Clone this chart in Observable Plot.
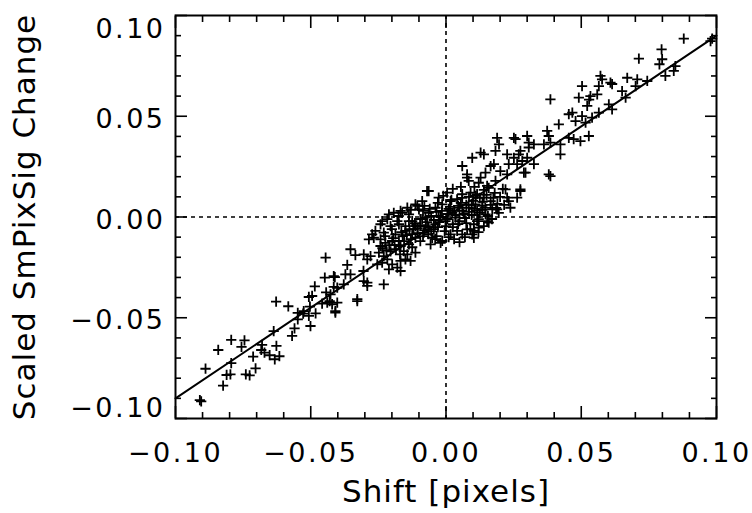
<!DOCTYPE html>
<html><head><meta charset="utf-8">
<script src="https://cdn.jsdelivr.net/npm/d3@7"></script>
<script src="https://cdn.jsdelivr.net/npm/@observablehq/plot@0.6"></script>
<style>
body{margin:0;background:#fff}
#chart svg{font-family:"DejaVu Sans",sans-serif}
#chart svg g[aria-label="x-axis tick label"] text,
#chart svg g[aria-label="y-axis tick label"] text{letter-spacing:2.5px}
#chart svg g[aria-label="text"] text{letter-spacing:1px}
</style>
</head><body><div id="chart"></div>
<script>
// Shift [pixels]
const xValues = [
-0.0910,-0.0905,-0.0889,-0.0824,-0.0842,-0.0811,-0.0797,-0.0794,-0.0794,-0.0756,
-0.0745,-0.0740,-0.0726,-0.0713,-0.0704,-0.0680,-0.0683,-0.0671,-0.0652,-0.0627,
-0.0633,-0.0616,-0.0637,-0.0628,-0.0583,-0.0569,-0.0560,-0.0548,-0.0548,-0.0528,
-0.0507,-0.0503,-0.0501,-0.0507,-0.0485,-0.0482,-0.0458,-0.0448,-0.0443,-0.0430,
-0.0421,-0.0415,-0.0411,-0.0445,-0.0365,-0.0335,-0.0304,-0.0279,-0.0291,-0.0328,
-0.0415,-0.0402,-0.0427,-0.0402,-0.0409,-0.0378,-0.0439,-0.0353,-0.0305,-0.0254,
-0.0495,-0.0526,-0.0353,-0.0291,-0.0273,-0.0285,-0.0261,-0.0242,-0.0236,-0.0217,
-0.0211,-0.0193,-0.0168,-0.0143,-0.0180,-0.0205,-0.0230,-0.0242,-0.0248,-0.0230,
-0.0217,-0.0236,-0.0199,-0.0211,-0.0180,-0.0168,-0.0150,-0.0230,-0.0291,-0.0304,
-0.0328,-0.0242,-0.0224,-0.0199,-0.0168,-0.0156,-0.0143,-0.0372,-0.0409,-0.0267,
-0.0168,-0.0131,
0.0097,0.0140,0.0060,0.0165,0.0146,0.0078,-0.0064,0.0004,-0.0027,0.0121,
0.0158,-0.0162,-0.0137,-0.0113,-0.0088,-0.0100,-0.0137,-0.0174,-0.0150,-0.0113,
-0.0088,-0.0064,-0.0039,-0.0014,0.0017,0.0041,0.0060,0.0091,0.0115,0.0140,
0.0165,0.0171,0.0146,0.0121,0.0103,0.0078,0.0041,0.0017,-0.0014,-0.0051,
-0.0082,-0.0113,-0.0137,-0.0113,0.0060,0.0097,0.0121,0.0158,0.0035,-0.0002,
-0.0039,-0.0064,0.0060,0.0084,0.0109,0.0134,0.0023,-0.0027,-0.0076,-0.0187,
-0.0174,-0.0070,0.0189,0.0196,0.0251,0.0300,0.0325,0.0275,0.0226,0.0177,
0.0201,0.0226,0.0263,0.0300,0.0325,0.0288,0.0380,0.0275,0.0226,0.0238,
0.0189,0.0152,0.0103,0.0103,-0.0020,-0.0057,-0.0106,0.0084,0.0128,0.0152,
0.0078,
0.0503,0.0386,0.0491,0.0534,0.0522,0.0467,0.0454,0.0503,0.0479,0.0516,
0.0540,0.0417,0.0374,0.0380,0.0257,0.0183,0.0128,0.0306,0.0306,0.0362,
0.0386,0.0423,0.0423,0.0454,0.0472,0.0497,0.0528,0.0386,0.0269,0.0251,
0.0232,0.0282,0.0294,0.0275,0.0263,0.0232,0.0220,0.0183,0.0879,0.0984,
0.0978,0.0797,0.0799,0.0789,0.0713,0.0848,0.0842,0.0811,0.0744,0.0707,
0.0701,0.0670,0.0651,0.0664,0.0608,0.0614,0.0571,0.0577,0.0565,0.0559,
0.0529,0.0602,0.0614,0.0565,
-0.0120,-0.0095,-0.0070,-0.0045,-0.0020,0.0005,0.0030,0.0050,0.0075,0.0100,
0.0125,0.0150,-0.0105,-0.0080,-0.0055,-0.0030,0.0000,0.0025,0.0050,0.0070,
0.0095,0.0115,0.0135,0.0085,0.0045,0.0010,-0.0035,-0.0060,-0.0085,-0.0125,
-0.0150,-0.0160,-0.0130,-0.0095,-0.0190,-0.0205,-0.0170,-0.0125,0.0030,0.0070,
0.0120,0.0170,0.0195,0.0190,0.0055,0.0025,-0.0010,0.0105,0.0140,
-0.0235,-0.0220,-0.0210,-0.0195,-0.0185,-0.0175,-0.0165,-0.0155,-0.0145,-0.0135,
-0.0125,-0.0115,-0.0105,-0.0095,-0.0085,-0.0075,-0.0065,-0.0055,-0.0045,-0.0035,
-0.0025,-0.0015,-0.0005,0.0005,0.0015,0.0025,0.0035,0.0045,0.0055,0.0065,
0.0075,0.0085,0.0095,0.0105,0.0115,0.0125,0.0135,0.0145,0.0155,0.0165,
0.0175,0.0185,0.0200,0.0210,0.0215,0.0180,0.0110,0.0060,0.0020,-0.0030,
-0.0080,-0.0130,-0.0175,-0.0200,-0.0225,-0.0040,0.0010,0.0050,0.0090,0.0140
];
// Scaled SmPixSig Change
const yValues = [
-0.0909,-0.0915,-0.0753,-0.0837,-0.0660,-0.0784,-0.0781,-0.0725,-0.0610,-0.0645,
-0.0612,-0.0781,-0.0786,-0.0693,-0.0751,-0.0635,-0.0660,-0.0673,-0.0686,-0.0640,
-0.0706,-0.0691,-0.0566,-0.0420,-0.0443,-0.0590,-0.0553,-0.0476,-0.0508,-0.0480,
-0.0397,-0.0445,-0.0541,-0.0491,-0.0344,-0.0478,-0.0430,-0.0301,-0.0374,-0.0417,
-0.0433,-0.0347,-0.0298,-0.0202,-0.0238,-0.0189,-0.0185,-0.0194,-0.0326,-0.0417,
-0.0293,-0.0351,-0.0384,-0.0425,-0.0475,-0.0334,-0.0425,-0.0285,-0.0268,-0.0235,
-0.0392,-0.0467,-0.0160,-0.0210,-0.0086,-0.0111,-0.0069,-0.0036,-0.0020,-0.0011,
0.0013,0.0021,0.0030,0.0046,-0.0020,-0.0045,-0.0078,-0.0111,-0.0177,-0.0194,
-0.0210,-0.0227,-0.0235,-0.0260,-0.0251,-0.0218,-0.0210,-0.0334,-0.0342,-0.0318,
-0.0408,-0.0144,-0.0128,-0.0119,-0.0144,-0.0169,-0.0185,-0.0285,-0.0467,-0.0103,
-0.0268,-0.0218,
0.0294,0.0311,0.0253,0.0253,0.0220,0.0195,0.0129,0.0121,0.0096,0.0170,
0.0145,0.0021,0.0013,0.0063,0.0079,0.0038,-0.0020,-0.0036,-0.0069,-0.0045,
-0.0011,0.0021,0.0046,0.0063,0.0079,0.0088,0.0113,0.0121,0.0113,0.0096,
0.0079,0.0038,0.0013,-0.0011,-0.0036,-0.0061,-0.0069,-0.0086,-0.0119,-0.0103,
-0.0078,-0.0103,-0.0136,-0.0177,-0.0086,-0.0086,-0.0053,-0.0028,-0.0003,-0.0020,
-0.0036,-0.0053,0.0030,0.0046,0.0063,0.0055,0.0021,0.0005,-0.0003,-0.0086,
-0.0119,0.0129,0.0393,0.0360,0.0393,0.0402,0.0360,0.0328,0.0311,0.0262,
0.0228,0.0212,0.0262,0.0294,0.0262,0.0220,0.0212,0.0129,0.0096,0.0046,
0.0038,-0.0020,-0.0069,-0.0103,-0.0128,-0.0136,0.0055,0.0179,0.0195,0.0154,
0.0212,
0.0650,0.0584,0.0592,0.0600,0.0551,0.0518,0.0510,0.0501,0.0476,0.0468,
0.0493,0.0460,0.0427,0.0402,0.0386,0.0328,0.0319,0.0369,0.0345,0.0360,
0.0369,0.0360,0.0311,0.0393,0.0386,0.0377,0.0402,0.0203,0.0311,0.0294,
0.0262,0.0278,0.0220,0.0137,0.0096,0.0079,0.0137,0.0179,0.0885,0.0885,
0.0873,0.0832,0.0783,0.0758,0.0786,0.0749,0.0725,0.0700,0.0675,0.0683,
0.0650,0.0691,0.0625,0.0592,0.0667,0.0660,0.0700,0.0683,0.0650,0.0609,
0.0583,0.0559,0.0534,0.0518,
-0.0060,-0.0040,-0.0025,-0.0015,0.0000,0.0015,0.0030,0.0045,0.0060,0.0080,
0.0095,0.0110,-0.0080,-0.0065,-0.0070,-0.0050,-0.0045,-0.0035,-0.0020,-0.0005,
0.0010,0.0030,0.0035,0.0100,0.0055,0.0040,0.0025,0.0040,0.0030,-0.0020,
-0.0045,-0.0095,-0.0110,-0.0120,-0.0140,-0.0170,-0.0185,-0.0150,-0.0110,-0.0100,
-0.0075,-0.0010,0.0020,0.0065,0.0150,0.0140,0.0105,0.0150,0.0135,
-0.0155,-0.0165,-0.0140,-0.0105,-0.0160,-0.0140,-0.0075,-0.0120,-0.0090,-0.0060,
-0.0085,-0.0030,-0.0055,-0.0010,-0.0095,-0.0045,-0.0085,0.0005,-0.0060,-0.0095,
-0.0025,0.0030,-0.0070,-0.0010,0.0050,-0.0050,0.0010,-0.0035,0.0070,0.0015,
-0.0030,0.0025,0.0060,0.0040,-0.0020,0.0020,0.0075,0.0045,0.0005,0.0060,
0.0095,0.0045,0.0100,0.0140,0.0060,0.0120,0.0105,0.0095,0.0085,0.0070,
0.0055,0.0035,0.0005,-0.0060,-0.0095,-0.0110,-0.0100,-0.0125,-0.0060,-0.0045
];
// fitted straight line (end values)
const fitX = [-0.10, 0.10];
const fitY = [-0.0900, 0.0900];

const majorTicks = [-0.10, -0.05, 0.00, 0.05, 0.10];
const minorTicks = [-0.09,-0.08,-0.07,-0.06,-0.04,-0.03,-0.02,-0.01,
                     0.01, 0.02, 0.03, 0.04, 0.06, 0.07, 0.08, 0.09];
const tickLabels = ["−0.10", "−0.05", "0.00", "0.05", "0.10"];
const xTitle = "Shift [pixels]";
const yTitle = "Scaled SmPixSig Change";

const points = xValues.map((x, i) => ({x, y: yValues[i]}));
const fit = fitX.map((x, i) => ({x, y: fitY[i]}));
const fmt = d => tickLabels[majorTicks.findIndex(t => Math.abs(t - d) < 1e-9)];

const tickStyle = {stroke: "black", fill: "none", strokeWidth: 1.6, label: null};
const labStyle = {tickSize: 0, fontSize: 27, fill: "black", tickFormat: fmt, label: null};

const chart = Plot.plot({
  width: 752, height: 513,
  marginLeft: 175, marginRight: 36, marginTop: 15, marginBottom: 95,
  x: {domain: [-0.1, 0.1]},
  y: {domain: [-0.1, 0.1]},
  style: {background: "white", color: "black", fontFamily: "DejaVu Sans, sans-serif"},
  marks: [
    Plot.ruleX([0], {stroke: "black", strokeWidth: 1.6, strokeDasharray: "4,4"}),
    Plot.ruleY([0], {stroke: "black", strokeWidth: 1.6, strokeDasharray: "4,4"}),
    Plot.dot(points, {x: "x", y: "y", symbol: "plus", r: 3.4, stroke: "black", strokeWidth: 1.8}),
    Plot.line(fit, {x: "x", y: "y", stroke: "black", strokeWidth: 2}),
    Plot.frame({stroke: "black", strokeWidth: 2}),
    // inward ticks on all four sides
    Plot.axisX(majorTicks, {anchor: "bottom", tickSize: -12, ...tickStyle}),
    Plot.axisX(minorTicks, {anchor: "bottom", tickSize: -6, ...tickStyle}),
    Plot.axisX(majorTicks, {anchor: "top", tickSize: -12, ...tickStyle}),
    Plot.axisX(minorTicks, {anchor: "top", tickSize: -6, ...tickStyle}),
    Plot.axisY(majorTicks, {anchor: "left", tickSize: -12, ...tickStyle}),
    Plot.axisY(minorTicks, {anchor: "left", tickSize: -6, ...tickStyle}),
    Plot.axisY(majorTicks, {anchor: "right", tickSize: -12, ...tickStyle}),
    Plot.axisY(minorTicks, {anchor: "right", tickSize: -6, ...tickStyle}),
    // tick labels
    Plot.axisX(majorTicks, {anchor: "bottom", tickPadding: 24, ...labStyle}),
    Plot.axisY([-0.05, 0.00, 0.05], {anchor: "left", tickPadding: 10, dy: 3, ...labStyle}),
    Plot.axisY([0.10], {anchor: "left", tickPadding: 10, dy: 14, ...labStyle}),
    Plot.axisY([-0.10], {anchor: "left", tickPadding: 10, dy: -10, ...labStyle}),
    // axis titles
    Plot.text([xTitle], {frameAnchor: "bottom", textAnchor: "middle", lineAnchor: "middle", dy: 74, fontSize: 31, fill: "black"}),
    Plot.text([yTitle], {frameAnchor: "left", textAnchor: "middle", lineAnchor: "middle", dx: -150, rotate: -90, fontSize: 31, fill: "black"})
  ]
});
document.getElementById("chart").appendChild(chart);
</script>
</body></html>
